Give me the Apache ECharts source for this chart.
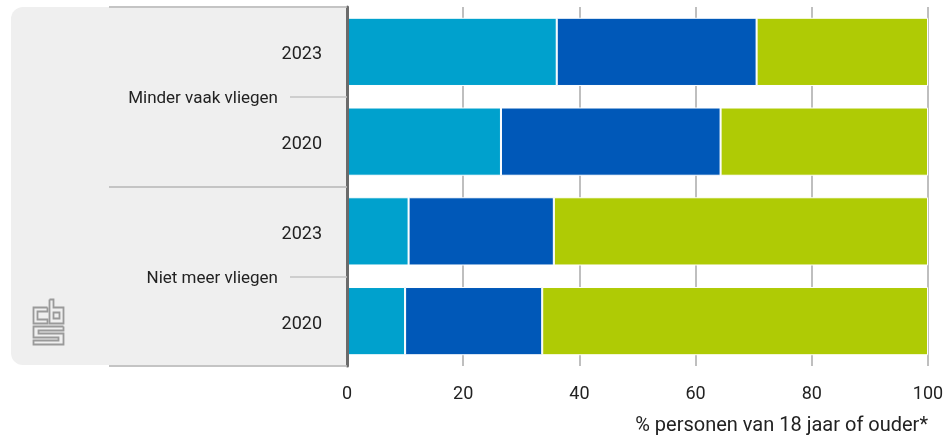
<!DOCTYPE html>
<html>
<head>
<meta charset="utf-8">
<script src="https://cdn.jsdelivr.net/npm/echarts@6/dist/echarts.min.js"></script>
<style>
  html, body { margin: 0; padding: 0; background: #ffffff; }
  #chart { width: 952px; height: 443px; }
</style>
</head>
<body>
<div id="chart"></div>
<script>
var years = ['2023', '2020', '2023', '2020'];
var groups = ['Minder vaak vliegen', 'Niet meer vliegen'];
var seriesLight = [36.1, 26.5, 10.6, 10.0];
var seriesDark = [34.4, 37.8, 25.0, 23.6];
var seriesGreen = [29.5, 35.7, 64.4, 66.4];
var xTicks = [0, 20, 40, 60, 80, 100];
var axisTitle = '% personen van 18 jaar of ouder*';

var FONT = "'Roboto', sans-serif";
var TXT = '#222222';

var chart = echarts.init(document.getElementById('chart'), null, { renderer: 'canvas' });

function bar(name, data, color) {
  return {
    name: name,
    type: 'bar',
    stack: 'total',
    data: data,
    barCategoryGap: '24%',
    itemStyle: { color: color, borderColor: '#ffffff', borderWidth: 1 },
    emphasis: { disabled: true },
    z: 3
  };
}

chart.setOption({
  animation: false,
  backgroundColor: '#ffffff',
  grid: { left: 347, right: 24, top: 7, bottom: 77, containLabel: false },
  title: {
    text: axisTitle,
    right: 24,
    top: 416,
    padding: 0,
    textStyle: { fontFamily: FONT, fontSize: 20, fontWeight: 'normal', color: TXT }
  },
  graphic: [
    {
      type: 'rect', z: -10, silent: true,
      shape: { x: 11, y: 7, width: 336, height: 358, r: [12, 0, 0, 12] },
      style: { fill: '#efefef' }
    },
    {
      type: 'group', left: 31, top: 297, z: -5, silent: true,
      children: [
        { type: 'polyline', shape: { points: [[15,9],[1,9],[1,25],[15,25],[15,21],[5,21],[5,13],[15,13],[15,9]] }, style: { fill: null, stroke: '#9a9a9a', lineWidth: 1.8 } },
        { type: 'polyline', shape: { points: [[17,1],[21,1],[21,9],[31,9],[31,25],[17,25],[17,1]] }, style: { fill: null, stroke: '#9a9a9a', lineWidth: 1.8 } },
        { type: 'rect', shape: { x: 21, y: 14, width: 6, height: 6 }, style: { fill: null, stroke: '#9a9a9a', lineWidth: 1.8 } },
        { type: 'polyline', shape: { points: [[31,28],[1,28],[1,39],[26,39],[26,42],[1,42],[1,46],[31,46],[31,35],[6,35],[6,32],[31,32],[31,28]] }, style: { fill: null, stroke: '#9a9a9a', lineWidth: 1.8 } }
      ]
    }
  ],
  xAxis: {
    type: 'value',
    min: 0, max: 100, interval: 20,
    axisLine: { show: false },
    axisTick: { show: false },
    splitLine: { show: true, lineStyle: { color: '#aaaaaa', width: 1.5 } },
    axisLabel: {
      fontFamily: FONT, fontSize: 18, color: TXT, margin: 19,
      formatter: function (v) { return xTicks.indexOf(v) >= 0 ? String(v) : ''; }
    }
  },
  yAxis: [
    {
      type: 'category',
      data: years,
      inverse: true,
      position: 'left',
      axisLine: { show: true, lineStyle: { color: '#6b6b6b', width: 3 } },
      axisTick: { show: true, length: 57, lineStyle: { color: '#c4c4c4', width: 1.5 } },
      axisLabel: {
        margin: 25,
        formatter: function (v) { return '{a|' + v + '}'; },
        rich: { a: { fontFamily: FONT, fontSize: 18, color: TXT, padding: [6, 0, 0, 0] } }
      },
      z: 5
    },
    {
      type: 'category',
      data: groups,
      inverse: true,
      position: 'left',
      offset: 0,
      axisLine: { show: false },
      axisTick: { show: true, length: 238, lineStyle: { color: '#c4c4c4', width: 2 } },
      axisLabel: {
        margin: 69,
        formatter: function (v) { return '{a|' + v + '}'; },
        rich: { a: { fontFamily: FONT, fontSize: 17, color: TXT, padding: [4, 0, 0, 0] } }
      },
      z: 4
    }
  ],
  series: [
    bar('light', seriesLight, '#00a1cd'),
    bar('dark', seriesDark, '#0058b8'),
    bar('green', seriesGreen, '#afcb05')
  ]
});
</script>
</body>
</html>
